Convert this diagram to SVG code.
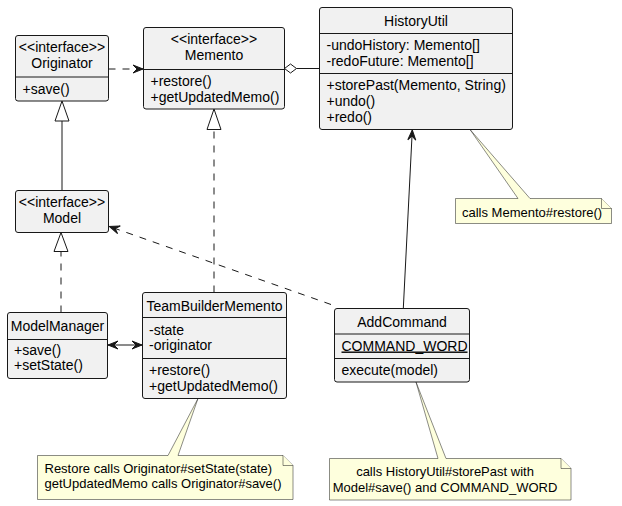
<svg xmlns="http://www.w3.org/2000/svg" width="622" height="506" viewBox="0 0 622 506">
<style>
.box{fill:#F1F1F1;stroke:#181818;stroke-width:1}
.sep{stroke:#181818;stroke-width:1}
.t{font-family:"Liberation Sans",Arial,sans-serif;font-size:14px;fill:#000}
.c{text-anchor:middle}
.note{fill:#FEFFDD;stroke:#181818;stroke-width:0.5}
.nt{font-family:"Liberation Sans",Arial,sans-serif;font-size:13px;fill:#000}
.ln{fill:none;stroke:#181818;stroke-width:1}
.dash{stroke-dasharray:7,7}
.hollow{fill:#FFFFFF;stroke:#181818;stroke-width:1}
</style>
<defs>
<marker id="arr" viewBox="-11 -6 12 12" refX="0" refY="0" markerWidth="12" markerHeight="12" markerUnits="userSpaceOnUse" orient="auto-start-reverse">
<path d="M0,0 L-10,-4 L-6,0 L-10,4 Z" fill="#181818" stroke="#181818" stroke-width="1"/>
</marker>
</defs>
<rect width="622" height="506" fill="#FFFFFF"/>

<g id="connectors">
<line class="ln dash" x1="108.5" y1="69" x2="143" y2="69" marker-end="url(#arr)"/>
<line class="ln" x1="296.5" y1="68.5" x2="319.5" y2="68.5"/>
<polygon class="hollow" points="284.5,68.5 290.5,64 296.5,68.5 290.5,73"/>
<line class="ln" x1="62" y1="190.5" x2="62" y2="121"/>
<polygon class="hollow" points="62,101 69,121 55,121"/>
<line class="ln dash" x1="61" y1="312.5" x2="61" y2="251.5"/>
<polygon class="hollow" points="61,232.5 68,251.5 54,251.5"/>
<line class="ln dash" x1="214" y1="292.5" x2="214" y2="129.5"/>
<polygon class="hollow" points="214,109 221,129.5 207,129.5"/>
<line class="ln" x1="108" y1="345" x2="142" y2="345" marker-start="url(#arr)" marker-end="url(#arr)"/>
<line class="ln dash" x1="331" y1="304.5" x2="109.5" y2="226.5" marker-end="url(#arr)"/>
<line class="ln" x1="403.3" y1="308.5" x2="412.3" y2="130" marker-end="url(#arr)"/>
</g>

<g id="originator">
<rect class="box" x="15.5" y="35.5" width="93" height="65.5" rx="2.5"/>
<line class="sep" x1="15.5" y1="77" x2="108.5" y2="77"/>
<text class="t c" x="62" y="51.5">&lt;&lt;interface&gt;&gt;</text>
<text class="t c" x="62" y="67.5">Originator</text>
<text class="t" x="22.5" y="94">+save()</text>
</g>

<g id="memento">
<rect class="box" x="143.5" y="27.5" width="141" height="81.5" rx="2.5"/>
<line class="sep" x1="143.5" y1="69.5" x2="284.5" y2="69.5"/>
<text class="t c" x="214" y="44">&lt;&lt;interface&gt;&gt;</text>
<text class="t c" x="214" y="60">Memento</text>
<text class="t" x="150.5" y="85.5">+restore()</text>
<text class="t" x="150.5" y="101.5">+getUpdatedMemo()</text>
</g>

<g id="historyutil">
<rect class="box" x="319.5" y="7.5" width="193" height="122" rx="2.5"/>
<line class="sep" x1="319.5" y1="33.5" x2="512.5" y2="33.5"/>
<line class="sep" x1="319.5" y1="73.5" x2="512.5" y2="73.5"/>
<text class="t c" x="416" y="25.5">HistoryUtil</text>
<text class="t" x="326.5" y="49.5">-undoHistory: Memento[]</text>
<text class="t" x="326.5" y="65.5">-redoFuture: Memento[]</text>
<text class="t" x="326.5" y="90">+storePast(Memento, String)</text>
<text class="t" x="326.5" y="106">+undo()</text>
<text class="t" x="326.5" y="122">+redo()</text>
</g>

<g id="model">
<rect class="box" x="15.5" y="190.5" width="93" height="42" rx="2.5"/>
<text class="t c" x="62" y="207">&lt;&lt;interface&gt;&gt;</text>
<text class="t c" x="62" y="223">Model</text>
</g>

<g id="modelmanager">
<rect class="box" x="7.5" y="312.5" width="100" height="66" rx="2.5"/>
<line class="sep" x1="7.5" y1="339.5" x2="107.5" y2="339.5"/>
<text class="t c" x="57.5" y="331">ModelManager</text>
<text class="t" x="14" y="354.5">+save()</text>
<text class="t" x="14" y="370">+setState()</text>
</g>

<g id="teambuildermemento">
<rect class="box" x="142.5" y="292.5" width="144" height="106" rx="2.5"/>
<line class="sep" x1="142.5" y1="317.5" x2="286.5" y2="317.5"/>
<line class="sep" x1="142.5" y1="358.5" x2="286.5" y2="358.5"/>
<text class="t c" x="214.5" y="310.5">TeamBuilderMemento</text>
<text class="t" x="149" y="334.5">-state</text>
<text class="t" x="149" y="350">-originator</text>
<text class="t" x="149" y="375">+restore()</text>
<text class="t" x="149" y="390.5">+getUpdatedMemo()</text>
</g>

<g id="addcommand">
<rect class="box" x="334.5" y="308.5" width="135" height="73.5" rx="2.5"/>
<line class="sep" x1="334.5" y1="334" x2="469.5" y2="334"/>
<line class="sep" x1="334.5" y1="358.5" x2="469.5" y2="358.5"/>
<text class="t c" x="402" y="326.5">AddCommand</text>
<text class="t" x="341.5" y="350.5" text-decoration="underline">COMMAND_WORD</text>
<text class="t" x="341.5" y="375">execute(model)</text>
</g>

<g id="note-restore">
<path class="note" d="M455.5,198.5 L518,198.5 L470,129.5 L530,198.5 L601.5,198.5 L611.5,208.5 L611.5,223.5 L455.5,223.5 Z"/>
<path class="note" d="M601.5,198.5 L601.5,208.5 L611.5,208.5"/>
<text class="nt" x="462" y="216.5">calls Memento#restore()</text>
</g>

<g id="note-teambuilder">
<path class="note" d="M37.5,455.5 L168,455.5 L198,398.5 L178,455.5 L283,455.5 L293,465.5 L293,499.5 L37.5,499.5 Z"/>
<path class="note" d="M283,455.5 L283,465.5 L293,465.5"/>
<text class="nt" x="44.5" y="472.5">Restore calls Originator#setState(state)</text>
<text class="nt" x="44.5" y="488">getUpdatedMemo calls Originator#save()</text>
</g>

<g id="note-addcommand">
<path class="note" d="M329.5,458.5 L438,458.5 L416,382 L446,458.5 L561,458.5 L571,468.5 L571,500 L329.5,500 Z"/>
<path class="note" d="M561,458.5 L561,468.5 L571,468.5"/>
<text class="nt c" x="445" y="476">calls HistoryUtil#storePast with</text>
<text class="nt c" x="445" y="491.5">Model#save() and COMMAND_WORD</text>
</g>
</svg>
